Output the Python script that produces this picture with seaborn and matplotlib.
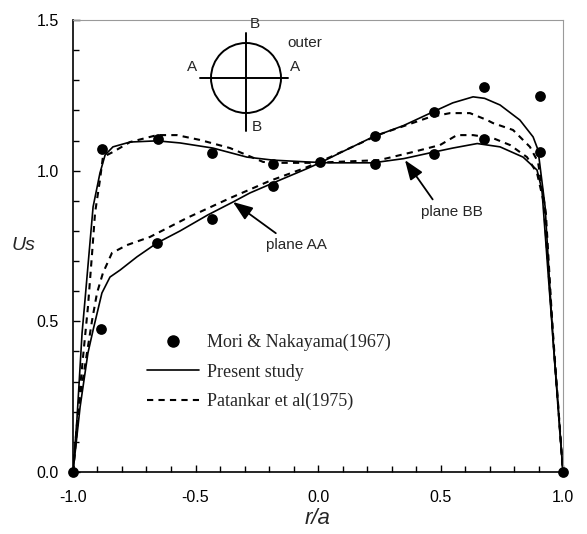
import numpy as np
import pandas as pd
import matplotlib
matplotlib.use("Agg")
import matplotlib.pyplot as plt
import seaborn as sns
from matplotlib.lines import Line2D
from matplotlib.patches import Circle
from matplotlib.ticker import MultipleLocator, FormatStrFormatter

sns.set_style("ticks")
plt.rcParams['font.family'] = ['Liberation Sans', 'DejaVu Sans']

# ---- experimental data (Mori & Nakayama 1967) ----
mori_x = [-1.0, -0.882, -0.886, -0.653, -0.657, -0.433, -0.433, -0.184, -0.184,
          0.008, 0.233, 0.233, 0.473, 0.473, 0.678, 0.678, 0.906, 0.906, 1.0]
mori_y = [0.0, 1.072, 0.475, 1.105, 0.760, 1.059, 0.840, 1.022, 0.949,
          1.029, 1.115, 1.022, 1.195, 1.055, 1.278, 1.105, 1.248, 1.062, 0.0]

# ---- present study, plane AA ----
pres_aa_x = [-1.0, -0.971, -0.939, -0.918, -0.882, -0.849, -0.808, -0.739, -0.657,
             -0.563, -0.45, -0.347, -0.278, -0.155, -0.05, 0.008, 0.09, 0.224,
             0.35, 0.469, 0.55, 0.633, 0.68, 0.743, 0.824, 0.878, 0.898, 0.927,
             0.959, 1.0]
pres_aa_y = [0.0, 0.216, 0.395, 0.471, 0.594, 0.647, 0.670, 0.714, 0.760,
             0.800, 0.853, 0.896, 0.926, 0.969, 1.005, 1.026, 1.059, 1.112,
             1.150, 1.195, 1.225, 1.245, 1.240, 1.218, 1.168, 1.112, 1.069, 0.880,
             0.440, 0.0]

# ---- present study, plane BB ----
pres_bb_x = [-1.0, -0.984, -0.963, -0.951, -0.918, -0.89, -0.869, -0.837, -0.767,
             -0.657, -0.563, -0.429, -0.29, -0.184, -0.045, 0.049, 0.224, 0.35,
             0.457, 0.55, 0.65, 0.743, 0.837, 0.894, 0.914, 0.94, 0.97, 1.0]
pres_bb_y = [0.0, 0.173, 0.461, 0.571, 0.880, 0.992, 1.052, 1.079, 1.095,
             1.099, 1.092, 1.075, 1.045, 1.035, 1.029, 1.026, 1.026, 1.040,
             1.059, 1.075, 1.090, 1.079, 1.045, 1.002, 0.936, 0.650, 0.330, 0.0]

# ---- Patankar et al (1975), plane AA ----
pat_aa_x = [-1.0, -0.971, -0.943, -0.922, -0.902, -0.878, -0.841, -0.78, -0.686,
            -0.535, -0.359, -0.2, -0.05, 0.05, 0.25, 0.457, 0.539, 0.62, 0.69,
            0.714, 0.796, 0.865, 0.898, 0.93, 0.96, 1.0]
pat_aa_y = [0.0, 0.249, 0.395, 0.504, 0.594, 0.660, 0.727, 0.753, 0.780,
            0.843, 0.909, 0.965, 1.010, 1.045, 1.120, 1.178, 1.191, 1.191, 1.168,
            1.158, 1.135, 1.079, 1.029, 0.860, 0.440, 0.0]

# ---- Patankar et al (1975), plane BB ----
pat_bb_x = [-1.0, -0.971, -0.939, -0.922, -0.91, -0.89, -0.878, -0.837, -0.767,
            -0.657, -0.576, -0.482, -0.359, -0.224, -0.155, -0.02, 0.1, 0.25,
            0.388, 0.498, 0.567, 0.633, 0.714, 0.784, 0.853, 0.894, 0.92, 0.96, 1.0]
pat_bb_y = [0.0, 0.282, 0.548, 0.727, 0.860, 0.969, 1.045, 1.062, 1.095,
            1.118, 1.118, 1.102, 1.075, 1.029, 1.026, 1.026, 1.030, 1.035,
            1.062, 1.085, 1.118, 1.118, 1.108, 1.085, 1.045, 0.992, 0.900, 0.450, 0.0]

x_ticks = [-1.0, -0.5, 0.0, 0.5, 1.0]
y_ticks = [0.0, 0.5, 1.0, 1.5]
legend_labels = ["Mori & Nakayama(1967)", "Present study", "Patankar et al(1975)"]

fig = plt.figure(figsize=(5.87, 5.34), dpi=100)
ax = fig.add_axes([73/587, 62/534, 490/587, 452/534])

DASH = (3.0, 2.5)
for xs, ys in [(pres_aa_x, pres_aa_y), (pres_bb_x, pres_bb_y)]:
    sns.lineplot(x=xs, y=ys, sort=False, estimator=None, color='black',
                 lw=1.2, ax=ax)
for xs, ys in [(pat_aa_x, pat_aa_y), (pat_bb_x, pat_bb_y)]:
    sns.lineplot(x=xs, y=ys, sort=False, estimator=None, color='black',
                 lw=1.5, dashes=DASH, ax=ax)
sns.scatterplot(x=mori_x, y=mori_y, color='black', s=60, edgecolor='black',
                linewidth=0, clip_on=False, zorder=5, ax=ax)

ax.set_xlim(-1.0, 1.0)
ax.set_ylim(0.0, 1.5)
ax.set_xticks(x_ticks)
ax.set_yticks(y_ticks)
ax.xaxis.set_major_formatter(FormatStrFormatter('%.1f'))
ax.yaxis.set_major_formatter(FormatStrFormatter('%.1f'))
ax.xaxis.set_minor_locator(MultipleLocator(0.1))
ax.yaxis.set_minor_locator(MultipleLocator(0.1))
ax.tick_params(which='both', direction='in', top=False, right=False,
               colors='black', labelsize=11.5)
ax.tick_params(which='major', length=5, width=1.0)
ax.tick_params(which='minor', length=4, width=1.0)
ax.tick_params(axis='x', pad=13)
ax.tick_params(axis='y', pad=10)

for s in ['left', 'bottom']:
    ax.spines[s].set_color('black')
    ax.spines[s].set_linewidth(1.2)
for s in ['top', 'right']:
    ax.spines[s].set_color('#9a9a9a')
    ax.spines[s].set_linewidth(0.8)

ax.set_xlabel('r/a', fontsize=16, fontstyle='italic')
ax.xaxis.set_label_coords(0.5, -0.08)
ax.set_ylabel('Us', fontsize=14, fontstyle='italic', rotation=0, va='center', ha='center')
ax.yaxis.set_label_coords(-0.102, 0.50)

handles = [Line2D([], [], marker='o', ls='none', color='black', markersize=8),
           Line2D([], [], color='black', lw=1.2),
           Line2D([], [], color='black', lw=1.5, dashes=DASH)]
leg = ax.legend(handles, legend_labels, loc='upper left', bbox_to_anchor=(0.151, 0.305),
                frameon=False, prop={'family': 'Liberation Serif', 'size': 13},
                handlelength=2.9, handletextpad=0.4, labelspacing=0.68,
                borderpad=0, borderaxespad=0)

arrow = dict(arrowstyle='-|>,head_length=1.2,head_width=0.45', color='black',
             lw=1.3, shrinkA=2, shrinkB=0, mutation_scale=10)
ax.annotate('plane AA', xy=(-0.347, 0.896), xytext=(-0.09, 0.753),
            ha='center', va='center', fontsize=11,
            arrowprops=dict(arrow, relpos=(0.28, 1.0)))
ax.annotate('plane BB', xy=(0.355, 1.035), xytext=(0.547, 0.863),
            ha='center', va='center', fontsize=11,
            arrowprops=dict(arrow, relpos=(0.25, 1.0)))

# inset sketch of cross-section (figure pixel space)
ins = fig.add_axes([180/587, 1 - 140/534, 140/587, 125/534])
ins.set_xlim(180, 320)
ins.set_ylim(140, 15)
ins.axis('off')
ins.add_patch(Circle((246, 78), 35, fill=False, lw=1.4, color='black'))
ins.plot([246, 246], [33, 131], color='black', lw=1.4)
ins.plot([200, 288], [78, 78], color='black', lw=1.4)
ins.text(255, 24, 'B', fontsize=11, ha='center', va='center')
ins.text(257, 127, 'B', fontsize=11, ha='center', va='center')
ins.text(192, 67, 'A', fontsize=11, ha='center', va='center')
ins.text(295, 67, 'A', fontsize=11, ha='center', va='center')
ins.text(305, 43, 'outer', fontsize=11, ha='center', va='center')

fig.savefig('out.png', dpi=100)
